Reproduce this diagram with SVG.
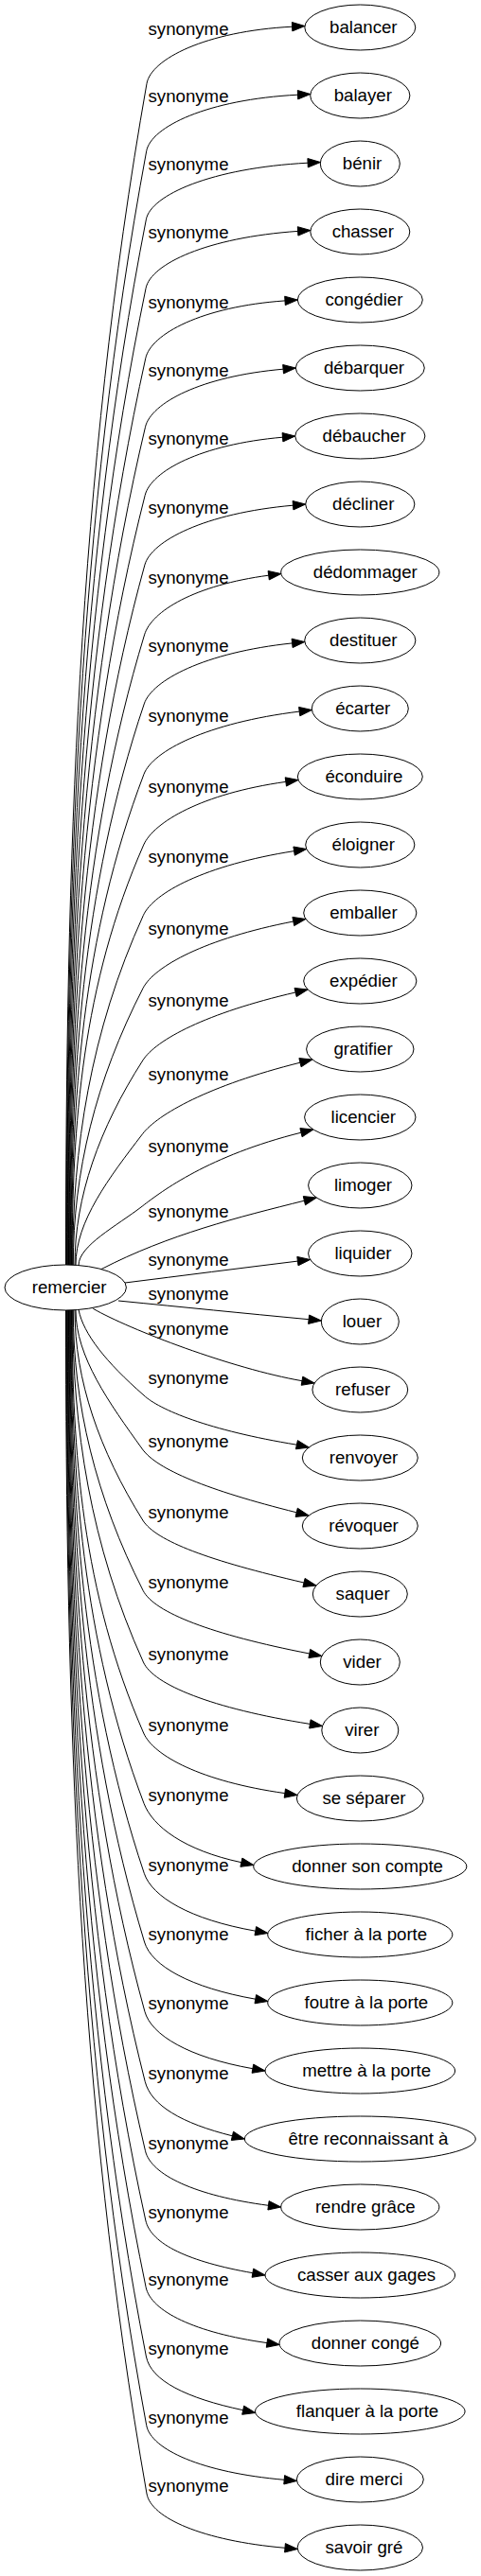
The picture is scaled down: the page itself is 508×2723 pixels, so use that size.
<svg xmlns="http://www.w3.org/2000/svg" width="508" height="2723" viewBox="0 0 508 2723">
<style>
text{font-family:"Liberation Sans",Arial,Helvetica,sans-serif;font-size:18.67px;fill:#000;text-anchor:middle}
ellipse{fill:none;stroke:#000;stroke-width:1}
.e path{fill:none;stroke:#000;stroke-width:1}
.e polygon{fill:#000;stroke:#000;stroke-width:1}
</style>
<rect width="508" height="2723" fill="#fff"/>
<g id="connectors" class="e">
<g><path d="M69.5,1337 C69.5,920.8 81.5,504.5 155,88.3 C159.5,62.7 216.5,33 308.6,28.2"/><polygon points="321.9,27.5 308.8,32.9 308.4,23.5"/><text x="199" y="37.3">synonyme</text></g>
<g><path d="M70.1,1337 C70.1,944.6 81.9,552.1 154.7,159.7 C159.4,134.1 218.7,105.2 314.5,100.2"/><polygon points="327.8,99.5 314.7,104.9 314.3,95.5"/><text x="199" y="108.3">synonyme</text></g>
<g><path d="M70.7,1337 C70.7,968.6 82.4,600.2 154.4,231.8 C159.4,206.3 222.8,177.6 325.1,172.2"/><polygon points="338.4,171.5 325.3,176.9 324.9,167.5"/><text x="199" y="180">synonyme</text></g>
<g><path d="M71.3,1337 C71.3,992.8 82.9,648.7 154.1,304.5 C159.4,279 218.5,251.1 314.6,244.4"/><polygon points="327.9,243.5 314.9,249.1 314.3,239.7"/><text x="199" y="252.3">synonyme</text></g>
<g><path d="M71.9,1337 C71.9,1017.5 83.4,698.1 153.8,378.6 C159.4,353.2 212.9,324.1 301,317.9"/><polygon points="314.3,317 301.3,322.6 300.7,313.2"/><text x="199" y="326">synonyme</text></g>
<g><path d="M72.5,1337 C72.5,1041.8 83.8,746.5 153.5,451.3 C159.5,426 212,397.8 299.1,390.2"/><polygon points="312.3,389 299.5,394.9 298.7,385.5"/><text x="199" y="398.3">synonyme</text></g>
<g><path d="M73.1,1337 C73.1,1065.8 84.3,794.6 153.2,523.4 C159.6,498.2 211.6,469.8 298.5,462.2"/><polygon points="311.7,461 298.9,466.9 298.1,457.5"/><text x="199" y="470">synonyme</text></g>
<g><path d="M73.7,1337 C73.7,1090.4 84.8,843.7 152.9,597.1 C159.8,572 215.9,542.4 309.5,534.2"/><polygon points="322.7,533 309.9,538.9 309.1,529.5"/><text x="199" y="543.3">synonyme</text></g>
<g><path d="M74.3,1337 C74.3,1115 85.3,892.9 152.6,670.9 C160.1,646 205.7,618.5 283.7,608.2"/><polygon points="296.9,606.5 284.3,612.9 283.1,603.5"/><text x="199" y="616.7">synonyme</text></g>
<g><path d="M74.9,1337 C74.9,1139.3 85.7,941.6 152.3,743.9 C160.6,719.3 215.3,689.7 308.6,679.9"/><polygon points="321.8,678.5 309.1,684.6 308.1,675.2"/><text x="199" y="689.3">synonyme</text></g>
<g><path d="M75.5,1337 C75.5,1164.1 86.2,991.2 152,818.3 C161.3,794 218.4,764.1 316.2,752.1"/><polygon points="329.4,750.5 316.8,756.8 315.6,747.4"/><text x="199" y="763.3">synonyme</text></g>
<g><path d="M76.1,1337 C76.1,1189 86.7,1041.1 151.7,893.1 C162.2,869.3 212.6,838.9 301.8,826.4"/><polygon points="315,824.5 302.5,831.1 301.2,821.8"/><text x="199" y="837.7">synonyme</text></g>
<g><path d="M76.7,1337 C76.7,1213.8 95.4,1090.7 151.4,967.5 C162.2,943.8 216.3,914.5 310.6,899.6"/><polygon points="323.7,897.5 311.3,904.2 309.9,895"/><text x="199" y="911.7">synonyme</text></g>
<g><path d="M77.3,1337 C77.3,1239.5 100.9,1142 151.1,1044.5 C163,1021.4 216.4,992.2 309.8,974"/><polygon points="322.9,971.5 310.7,978.6 308.9,969.4"/><text x="199" y="988.3">synonyme</text></g>
<g><path d="M79,1337 C79,1265 104.8,1192.9 150.8,1120.9 C164.8,1099 217.8,1070.8 312.1,1049"/><polygon points="325.1,1046 313.2,1053.6 311,1044.4"/><text x="199" y="1064.3">synonyme</text></g>
<g><path d="M80,1337 C80,1290.9 115.3,1244.8 150.5,1198.7 C166.3,1178 220.1,1147.4 317,1123.2"/><polygon points="329.9,1120 318.1,1127.8 315.9,1118.6"/><text x="199" y="1141.7">synonyme</text></g>
<g><path d="M83,1337.6 C83,1316.8 123.3,1295.9 150.2,1275.1 C170.8,1259.2 220.3,1221.6 318,1197.2"/><polygon points="330.9,1194 319.1,1201.8 316.9,1192.6"/><text x="199" y="1217.7">synonyme</text></g>
<g><path d="M107,1341.6 C177.7,1305 252.7,1286.3 321.4,1269.2"/><polygon points="334.3,1266 322.5,1273.8 320.3,1264.6"/><text x="199" y="1286.7">synonyme</text></g>
<g><path d="M132,1356 C192.8,1348.4 254.1,1340.5 314.4,1333.1"/><polygon points="327.6,1331.5 315,1337.8 313.8,1328.4"/><text x="199" y="1337.7">synonyme</text></g>
<g><path d="M125,1375 C196,1382 255,1388 326.1,1394.7"/><polygon points="339.3,1396 326.6,1390 325.6,1399.4"/><text x="199" y="1374">synonyme</text></g>
<g><path d="M98.3,1383.3 C137.5,1405.8 245.1,1446.7 319,1459.7"/><polygon points="332.1,1462 319.8,1455.1 318.2,1464.3"/><text x="199" y="1410.7">synonyme</text></g>
<g><path d="M83,1384.4 C88,1410 112,1440 152,1475 C168,1490 220,1512 313.4,1527.2"/><polygon points="326.4,1530 314.4,1522.6 312.4,1531.8"/><text x="199" y="1463.3">synonyme</text></g>
<g><path d="M80,1385 C80,1434 115.3,1483 150.5,1532 C165.7,1553.1 218.5,1575.2 313.2,1598.8"/><polygon points="326.1,1602 314.3,1594.2 312.1,1603.4"/><text x="199" y="1530">synonyme</text></g>
<g><path d="M79,1385 C79,1459 104.8,1533 150.8,1607 C164.5,1629.1 221.5,1650 321,1673"/><polygon points="334,1676 322.1,1668.4 319.9,1677.6"/><text x="199" y="1605">synonyme</text></g>
<g><path d="M77.3,1385 C77.3,1483.8 100.9,1582.5 151.1,1681.3 C162.9,1704.5 223.3,1727.9 326.8,1748"/><polygon points="339.9,1750.5 327.7,1743.4 325.9,1752.6"/><text x="199" y="1679.3">synonyme</text></g>
<g><path d="M76.7,1385 C76.7,1509 95.4,1633 151.4,1757 C162.1,1780.7 223.1,1805.9 327.4,1822.4"/><polygon points="340.5,1824.5 328.1,1817.8 326.7,1827"/><text x="199" y="1755">synonyme</text></g>
<g><path d="M76.1,1385 C76.1,1534 86.7,1683 151.7,1832 C162.1,1855.8 212.2,1883.1 300.8,1895.6"/><polygon points="314,1897.5 301.5,1890.9 300.2,1900.3"/><text x="199" y="1830">synonyme</text></g>
<g><path d="M75.5,1385 C75.5,1558.8 86.2,1732.5 152,1906.3 C161.2,1930.6 194.5,1955.9 254.9,1968.7"/><polygon points="267.9,1971.5 255.9,1964.1 253.9,1973.3"/><text x="199" y="1904.3">synonyme</text></g>
<g><path d="M74.9,1385 C74.9,1583.4 85.7,1781.9 152.3,1980.3 C160.6,2005 200.4,2029 269.8,2041.2"/><polygon points="282.9,2043.5 270.6,2036.6 269,2045.8"/><text x="199" y="1978.3">synonyme</text></g>
<g><path d="M74.3,1385 C74.3,1607.7 85.3,1830.3 152.6,2053 C160.1,2077.9 200.6,2101 269.8,2113.2"/><polygon points="282.9,2115.5 270.6,2108.6 269,2117.8"/><text x="199" y="2051">synonyme</text></g>
<g><path d="M73.7,1385 C73.7,1632.1 84.8,1879.2 152.9,2126.3 C159.8,2151.4 199.5,2174.8 266.9,2186.7"/><polygon points="280,2189 267.7,2182.1 266.1,2191.3"/><text x="199" y="2124.3">synonyme</text></g>
<g><path d="M73.1,1385 C73.1,1656.8 84.3,1928.5 153.2,2200.3 C159.6,2225.5 191.7,2244.4 245.4,2257.8"/><polygon points="258.3,2261 246.5,2253.2 244.3,2262.4"/><text x="199" y="2198.3">synonyme</text></g>
<g><path d="M72.5,1385 C72.5,1681.2 83.8,1977.5 153.5,2273.7 C159.5,2299 206.2,2321.1 283.5,2331.3"/><polygon points="296.7,2333 284.1,2326.6 282.9,2336"/><text x="199" y="2271.7">synonyme</text></g>
<g><path d="M71.9,1385 C71.9,1705.7 83.4,2026.3 153.8,2347 C159.4,2372.4 200,2390.9 266.9,2402.7"/><polygon points="280,2405 267.7,2398.1 266.1,2407.3"/><text x="199" y="2345">synonyme</text></g>
<g><path d="M71.3,1385 C71.3,1729.2 82.9,2073.5 154.1,2417.7 C159.4,2443.2 206,2465.9 282,2476.6"/><polygon points="295.2,2478.5 282.7,2471.9 281.3,2481.3"/><text x="199" y="2415.7">synonyme</text></g>
<g><path d="M70.7,1385 C70.7,1753.7 82.4,2122.3 154.4,2491 C159.4,2516.5 196.6,2534.9 256.7,2547.7"/><polygon points="269.7,2550.5 257.7,2543.1 255.7,2552.3"/><text x="199" y="2489">synonyme</text></g>
<g><path d="M70.1,1385 C70.1,1777.9 81.9,2170.8 154.7,2563.7 C159.4,2589.3 213.2,2613.7 300.2,2621.3"/><polygon points="313.4,2622.5 300.6,2616.6 299.8,2626"/><text x="199" y="2561.7">synonyme</text></g>
<g><path d="M69.5,1385 C69.5,1802 81.5,2219 155,2636 C159.5,2661.6 213.7,2685.7 301,2693.3"/><polygon points="314.2,2694.5 301.4,2688.6 300.6,2698"/><text x="199" y="2634">synonyme</text></g>
</g>
<g id="remercier"><ellipse cx="69.2" cy="1361" rx="64.2" ry="24"/><text x="73.1" y="1367">remercier</text></g>
<g id="balancer"><ellipse cx="380.3" cy="29" rx="58.5" ry="24"/><text x="383.8" y="35">balancer</text></g>
<g id="balayer"><ellipse cx="380.3" cy="101" rx="52.6" ry="24"/><text x="383.3" y="107">balayer</text></g>
<g id="benir"><ellipse cx="380.3" cy="173" rx="42" ry="24"/><text x="382.5" y="179">bénir</text></g>
<g id="chasser"><ellipse cx="380.3" cy="245" rx="52.5" ry="24"/><text x="383.3" y="251">chasser</text></g>
<g id="congedier"><ellipse cx="380.3" cy="317" rx="66" ry="24"/><text x="384.4" y="323">congédier</text></g>
<g id="debarquer"><ellipse cx="380.3" cy="389" rx="68" ry="24"/><text x="384.5" y="395">débarquer</text></g>
<g id="debaucher"><ellipse cx="380.3" cy="461" rx="68.6" ry="24"/><text x="384.6" y="467">débaucher</text></g>
<g id="decliner"><ellipse cx="380.3" cy="533" rx="57.6" ry="24"/><text x="383.7" y="539">décliner</text></g>
<g id="dedommager"><ellipse cx="380.3" cy="605" rx="83.6" ry="24"/><text x="385.8" y="611">dédommager</text></g>
<g id="destituer"><ellipse cx="380.3" cy="677" rx="58.6" ry="24"/><text x="383.8" y="683">destituer</text></g>
<g id="ecarter"><ellipse cx="380.3" cy="749" rx="51" ry="24"/><text x="383.2" y="755">écarter</text></g>
<g id="econduire"><ellipse cx="380.3" cy="821" rx="66" ry="24"/><text x="384.4" y="827">éconduire</text></g>
<g id="eloigner"><ellipse cx="380.3" cy="893" rx="57.6" ry="24"/><text x="383.7" y="899">éloigner</text></g>
<g id="emballer"><ellipse cx="380.3" cy="965" rx="59.6" ry="24"/><text x="383.9" y="971">emballer</text></g>
<g id="expedier"><ellipse cx="380.3" cy="1037" rx="59.6" ry="24"/><text x="383.9" y="1043">expédier</text></g>
<g id="gratifier"><ellipse cx="380.3" cy="1109" rx="56.7" ry="24"/><text x="383.6" y="1115">gratifier</text></g>
<g id="licencier"><ellipse cx="380.3" cy="1181" rx="58.7" ry="24"/><text x="383.8" y="1187">licencier</text></g>
<g id="limoger"><ellipse cx="380.3" cy="1253" rx="54.7" ry="24"/><text x="383.5" y="1259">limoger</text></g>
<g id="liquider"><ellipse cx="380.3" cy="1325" rx="54.7" ry="24"/><text x="383.5" y="1331">liquider</text></g>
<g id="louer"><ellipse cx="380.3" cy="1397" rx="41" ry="24"/><text x="382.4" y="1403">louer</text></g>
<g id="refuser"><ellipse cx="380.3" cy="1469" rx="50.4" ry="24"/><text x="383.1" y="1475">refuser</text></g>
<g id="renvoyer"><ellipse cx="380.3" cy="1541" rx="61" ry="24"/><text x="384" y="1547">renvoyer</text></g>
<g id="revoquer"><ellipse cx="380.3" cy="1613" rx="61" ry="24"/><text x="384" y="1619">révoquer</text></g>
<g id="saquer"><ellipse cx="380.3" cy="1685" rx="50" ry="24"/><text x="383.1" y="1691">saquer</text></g>
<g id="vider"><ellipse cx="380.3" cy="1757" rx="42" ry="24"/><text x="382.5" y="1763">vider</text></g>
<g id="virer"><ellipse cx="380.3" cy="1829" rx="40.5" ry="24"/><text x="382.3" y="1835">virer</text></g>
<g id="se-separer"><ellipse cx="380.3" cy="1901" rx="67" ry="24"/><text x="384.5" y="1907">se séparer</text></g>
<g id="donner-son-compte"><ellipse cx="380.3" cy="1973" rx="112.6" ry="24"/><text x="388.1" y="1979">donner son compte</text></g>
<g id="ficher-a-la-porte"><ellipse cx="380.3" cy="2045" rx="97.6" ry="24"/><text x="386.9" y="2051">ficher à la porte</text></g>
<g id="foutre-a-la-porte"><ellipse cx="380.3" cy="2117" rx="97.6" ry="24"/><text x="386.9" y="2123">foutre à la porte</text></g>
<g id="mettre-a-la-porte"><ellipse cx="380.3" cy="2189" rx="100.3" ry="24"/><text x="387.1" y="2195">mettre à la porte</text></g>
<g id="etre-reconnaissant-a"><ellipse cx="380.3" cy="2261" rx="122" ry="24"/><text x="388.9" y="2267">être reconnaissant à</text></g>
<g id="rendre-grace"><ellipse cx="380.3" cy="2333" rx="83.6" ry="24"/><text x="385.8" y="2339">rendre grâce</text></g>
<g id="casser-aux-gages"><ellipse cx="380.3" cy="2405" rx="100.3" ry="24"/><text x="387.1" y="2411">casser aux gages</text></g>
<g id="donner-conge"><ellipse cx="380.3" cy="2477" rx="85.3" ry="24"/><text x="385.9" y="2483">donner congé</text></g>
<g id="flanquer-a-la-porte"><ellipse cx="380.3" cy="2549" rx="110.8" ry="24"/><text x="388" y="2555">flanquer à la porte</text></g>
<g id="dire-merci"><ellipse cx="380.3" cy="2621" rx="67" ry="24"/><text x="384.5" y="2627">dire merci</text></g>
<g id="savoir-gre"><ellipse cx="380.3" cy="2693" rx="66.2" ry="24"/><text x="384.4" y="2699">savoir gré</text></g>
</svg>
